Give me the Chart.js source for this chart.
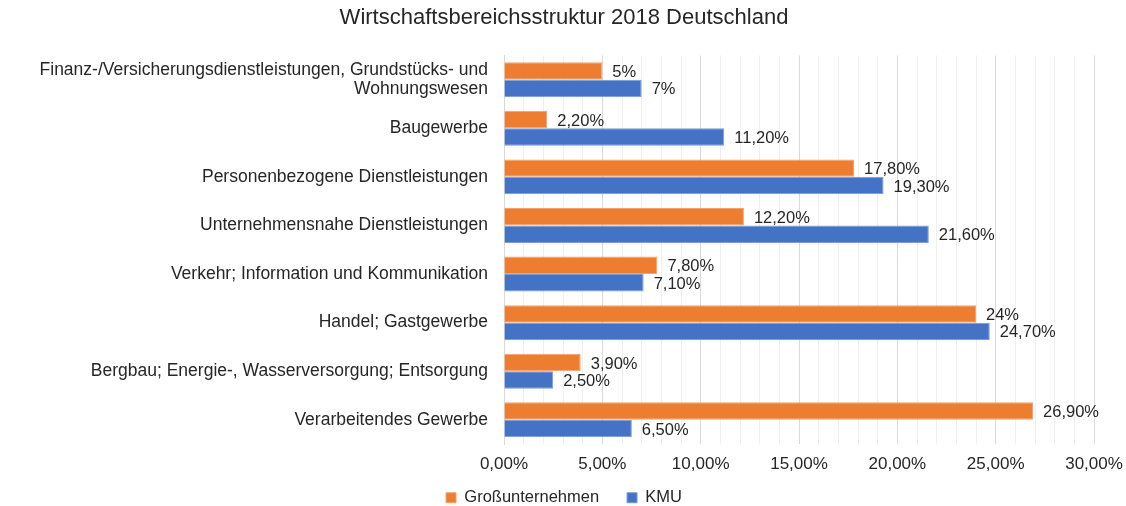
<!DOCTYPE html>
<html>
<head>
<meta charset="utf-8">
<script src="https://cdn.jsdelivr.net/npm/chart.js@4"></script>
<style>
  html, body { margin: 0; padding: 0; background: #fff; }
</style>
</head>
<body>
<canvas id="chart" width="1126" height="506"></canvas>
<script>
var categories = [
  ['Finanz-/Versicherungsdienstleistungen, Grundstücks- und', 'Wohnungswesen'],
  'Baugewerbe',
  'Personenbezogene Dienstleistungen',
  'Unternehmensnahe Dienstleistungen',
  'Verkehr; Information und Kommunikation',
  'Handel; Gastgewerbe',
  'Bergbau; Energie-, Wasserversorgung; Entsorgung',
  'Verarbeitendes Gewerbe'
];
var grossunternehmen = [5, 2.2, 17.8, 12.2, 7.8, 24, 3.9, 26.9];
var kmu = [7, 11.2, 19.3, 21.6, 7.1, 24.7, 2.5, 6.5];

var FONT = 'Liberation Sans, Arial, sans-serif';
var TEXT = '#262626';

// 5 -> "5%", 2.2 -> "2,20%"
function fmtLabel(v) {
  if (Number.isInteger(v)) return v + '%';
  return v.toFixed(2).replace('.', ',') + '%';
}

var valueLabels = {
  id: 'valueLabels',
  afterDatasetsDraw: function(chart) {
    var ctx = chart.ctx;
    ctx.save();
    ctx.font = '16.5px ' + FONT;
    ctx.fillStyle = TEXT;
    ctx.textAlign = 'left';
    ctx.textBaseline = 'middle';
    chart.data.datasets.forEach(function(ds, i) {
      chart.getDatasetMeta(i).data.forEach(function(bar, j) {
        ctx.fillText(fmtLabel(ds.data[j]), bar.x + 10, bar.y + 1.5);
      });
    });
    ctx.restore();
  }
};

new Chart(document.getElementById('chart'), {
  type: 'bar',
  data: {
    labels: categories,
    datasets: [
      { label: 'Großunternehmen', data: grossunternehmen, backgroundColor: '#ED7D31', borderColor: '#f4a26c', borderWidth: 1 },
      { label: 'KMU', data: kmu, backgroundColor: '#4472C4', borderColor: '#7b9ad6', borderWidth: 1 }
    ]
  },
  options: {
    indexAxis: 'y',
    responsive: false,
    animation: false,
    devicePixelRatio: 1,
    categoryPercentage: 0.72,
    barPercentage: 1,
    layout: { padding: { top: 0, right: 32, bottom: -10, left: 34 } },
    plugins: {
      title: {
        display: true,
        text: 'Wirtschaftsbereichsstruktur 2018 Deutschland',
        color: TEXT,
        font: { family: FONT, size: 22, weight: 'normal' },
        padding: { top: 5, bottom: 24 }
      },
      legend: {
        position: 'bottom',
        labels: {
          color: TEXT,
          font: { family: FONT, size: 16.5 },
          boxWidth: 10,
          boxHeight: 10,
          padding: 5,
          // extra room between the two legend entries
          generateLabels: function(chart) {
            var items = Chart.defaults.plugins.legend.labels.generateLabels(chart);
            items.forEach(function(it, i) {
              if (i < items.length - 1) it.text = it.text + '     ';
            });
            return items;
          }
        }
      },
      tooltip: { enabled: false }
    },
    scales: {
      x: {
        min: 0,
        max: 30,
        border: { display: false },
        afterFit: function(s) { s.paddingLeft = 0; s.paddingRight = 0; },
        grid: {
          drawTicks: false,
          color: function(c) { return c.tick && c.tick.value % 5 === 0 ? '#d9d9d9' : '#efefef'; }
        },
        ticks: {
          stepSize: 1,
          autoSkip: false,
          maxRotation: 0,
          minRotation: 0,
          padding: 10,
          color: TEXT,
          font: { family: FONT, size: 17 },
          callback: function(v) { return v % 5 === 0 ? v.toFixed(2).replace('.', ',') + '%' : ''; }
        }
      },
      y: {
        border: { display: true, color: '#d9d9d9' },
        grid: { display: false, drawTicks: false },
        afterFit: function(s) { s.width = 470; },
        ticks: {
          padding: 16,
          color: TEXT,
          font: { family: FONT, size: 17.5, lineHeight: 1.1 }
        }
      }
    }
  },
  plugins: [valueLabels]
});
</script>
</body>
</html>
